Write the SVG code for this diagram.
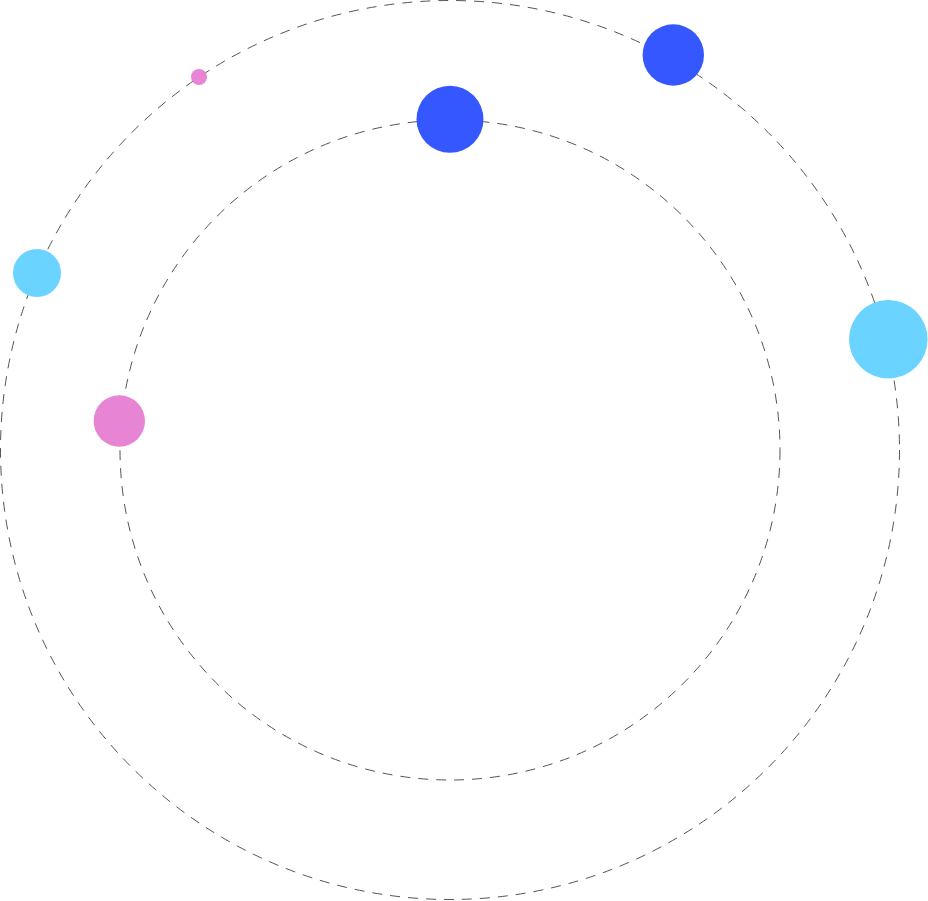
<svg xmlns="http://www.w3.org/2000/svg" width="928" height="901" viewBox="0 0 928 901">
<style>
.orbit{fill:none;stroke:#555;stroke-width:1;stroke-dasharray:10 8}
.blue{fill:#3557FF}
.cyan{fill:#6AD3FF}
.pink{fill:#E884D4}
</style>
<rect width="928" height="901" fill="#fff"/>
<g id="orbits">
<circle class="orbit" cx="450" cy="450" r="449.5"/>
<circle class="orbit" cx="450" cy="450" r="330"/>
</g>
<g id="planet-blue-inner"><circle class="blue" cx="450" cy="119.3" r="33.5"/></g>
<g id="planet-blue-outer"><circle class="blue" cx="673.3" cy="55" r="30.7"/></g>
<g id="planet-pink-small"><circle class="pink" cx="199" cy="77" r="8"/></g>
<g id="planet-cyan-left"><circle class="cyan" cx="37" cy="273" r="24"/></g>
<g id="planet-pink-inner"><circle class="pink" cx="119.3" cy="421" r="25.7"/></g>
<g id="planet-cyan-right"><circle class="cyan" cx="888.3" cy="339.3" r="39.3"/></g>
</svg>
